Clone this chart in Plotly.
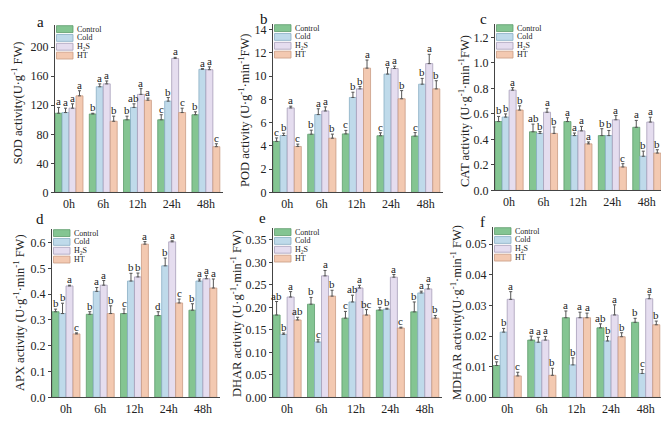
import plotly.graph_objects as go

# the page body has an 8px margin, so the figure is drawn 8px in from the top-left
OFF = 8
W, H = 669 - OFF, 423 - OFF
FONT = "Liberation Serif"

times = ["0h", "6h", "12h", "24h", "48h"]
groups = ["Control", "Cold", "H<sub>2</sub>S", "HT"]
fills = ["#84c592", "#bfdaea", "#e5ddef", "#f3c9b1"]
edges = ["#5e9c6c", "#8aaec4", "#a79eb9", "#c99c84"]

# ---- Panel a: SOD ----
sod = [[109, 108, 100, 100, 107],
       [110, 145.5, 117, 125.7, 169.5],
       [116, 149.5, 135, 184.5, 169],
       [133, 98, 127, 110, 63]]
sod_err = [[8, 1, 5, 7, 4],
           [6, 4, 5, 5, 1],
           [6, 4, 8, 1.5, 4],
           [7, 7, 3, 6, 4]]
sod_let = [["a", "b", "b", "c", "b"],
           ["a", "a", "ab", "b", "a"],
           ["a", "a", "a", "a", "a"],
           ["a", "b", "a", "c", "c"]]

# ---- Panel b: POD ----
pod = [[4.38, 5.0, 5.03, 4.87, 4.84],
       [4.89, 6.69, 8.16, 10.17, 9.3],
       [7.26, 7.0, 8.9, 10.65, 11.07],
       [3.95, 4.66, 10.68, 8.05, 8.9]]
pod_err = [[0.3, 0.35, 0.3, 0.25, 0.3],
           [0.2, 0.5, 0.45, 0.55, 0.5],
           [0.15, 0.35, 0.2, 0.2, 0.8],
           [0.2, 0.35, 0.7, 0.7, 0.7]]
pod_let = [["c", "b", "c", "c", "c"],
           ["b", "a", "b", "a", "b"],
           ["a", "a", "b", "a", "a"],
           ["c", "b", "a", "b", "b"]]

# ---- Panel c: CAT ----
cat = [[0.54, 0.46, 0.54, 0.43, 0.495],
       [0.575, 0.447, 0.43, 0.43, 0.268],
       [0.786, 0.613, 0.467, 0.554, 0.536],
       [0.63, 0.447, 0.365, 0.184, 0.293]]
cat_err = [[0.04, 0.06, 0.03, 0.054, 0.054],
           [0.025, 0.015, 0.02, 0.04, 0.04],
           [0.02, 0.03, 0.035, 0.033, 0.038],
           [0.033, 0.05, 0.015, 0.026, 0.026]]
cat_let = [["b", "ab", "a", "b", "a"],
           ["b", "b", "a", "b", "b"],
           ["a", "a", "a", "a", "a"],
           ["b", "b", "a", "c", "b"]]

# ---- Panel d: APX ----
apx = [[0.332, 0.322, 0.325, 0.317, 0.338],
       [0.325, 0.411, 0.451, 0.51, 0.451],
       [0.432, 0.435, 0.467, 0.603, 0.46],
       [0.246, 0.325, 0.594, 0.366, 0.424]]
apx_err = [[0.01, 0.01, 0.018, 0.015, 0.025],
           [0.04, 0.015, 0.03, 0.03, 0.008],
           [0.003, 0.018, 0.015, 0.004, 0.012],
           [0.004, 0.03, 0.01, 0.015, 0.035]]
apx_let = [["b", "b", "c", "d", "b"],
           ["b", "a", "b", "b", "a"],
           ["a", "a", "b", "a", "a"],
           ["c", "b", "a", "c", "a"]]

# ---- Panel e: DHAR ----
dhar = [[0.183, 0.207, 0.176, 0.194, 0.19],
        [0.14, 0.123, 0.212, 0.196, 0.232],
        [0.223, 0.27, 0.243, 0.267, 0.241],
        [0.172, 0.225, 0.183, 0.154, 0.176]]
dhar_err = [[0.03, 0.015, 0.015, 0.006, 0.022],
            [0.003, 0.005, 0.015, 0.002, 0.004],
            [0.012, 0.012, 0.006, 0.006, 0.01],
            [0.006, 0.013, 0.012, 0.002, 0.006]]
dhar_let = [["ab", "b", "c", "b", "b"],
            ["b", "c", "ab", "b", "a"],
            ["a", "a", "a", "a", "a"],
            ["ab", "b", "bc", "c", "b"]]

# ---- Panel f: MDHAR ----
mdhar = [[0.0104, 0.0187, 0.026, 0.0227, 0.0245],
         [0.0213, 0.018, 0.0106, 0.0184, 0.0078],
         [0.032, 0.0187, 0.026, 0.0269, 0.0322],
         [0.007, 0.0072, 0.026, 0.0198, 0.0237]]
mdhar_err = [[0.0012, 0.0013, 0.0022, 0.0013, 0.0013],
             [0.0012, 0.0016, 0.0023, 0.0015, 0.0013],
             [0.0025, 0.0012, 0.0018, 0.0033, 0.0013],
             [0.0012, 0.0023, 0.0015, 0.0013, 0.0012]]
mdhar_let = [["c", "a", "a", "ab", "b"],
             ["b", "a", "b", "b", "c"],
             ["a", "a", "a", "a", "a"],
             ["c", "b", "a", "b", "b"]]

panels = [
    dict(tag="a", tagpos=(40, 21), titlepos=(17, 104), vals=sod, err=sod_err,
         let=sod_let, box=(55, 223, 24, 195), yr=231, dt=40, fmt="d",
         title="SOD activity(U·g<sup>-1</sup> FW)"),
    dict(tag="b", tagpos=(264, 8.5), titlepos=(244, 112), vals=pod, err=pod_err,
         let=pod_let, box=(273, 443, 23, 195), yr=14.5, dt=2, fmt="d",
         title="POD activity (U·g<sup>-1</sup>·min<sup>-1</sup>FW)"),
    dict(tag="c", tagpos=(483, 8.5), titlepos=(464, 112), vals=cat, err=cat_err,
         let=cat_let, box=(495, 664, 23, 193), yr=1.307, dt=0.2, fmt=".1f",
         title="CAT activity (U·g<sup>-1</sup>·min<sup>-1</sup>FW)"),
    dict(tag="d", tagpos=(40, 222), titlepos=(19, 318), vals=apx, err=apx_err,
         let=apx_let, box=(52, 220, 232, 404), yr=0.654, dt=0.1, fmt=".1f",
         title="APX activity (U·g<sup>-1</sup>·min<sup>-1</sup> FW)"),
    dict(tag="e", tagpos=(262, 221), titlepos=(236, 319), vals=dhar, err=dhar_err,
         let=dhar_let, box=(273, 442, 231, 404), yr=0.377, dt=0.05, fmt=".2f",
         title="DHAR activity (U·g<sup>-1</sup>·min<sup>-1</sup> FW)"),
    dict(tag="f", tagpos=(482, 225), titlepos=(456, 318), vals=mdhar, err=mdhar_err,
         let=mdhar_let, box=(493, 663, 230, 404), yr=0.0557, dt=0.01, fmt=".2f",
         title="MDHAR activity(U·g<sup>-1</sup>·min<sup>-1</sup> FW)"),
]

BARGAP = 0.185
XR = [-0.41, 4.5]
xpos = list(range(len(times)))

fig = go.Figure()
layout = dict(width=W, height=H, margin=dict(l=0, r=0, t=0, b=0),
              paper_bgcolor="white", plot_bgcolor="white",
              showlegend=False, barmode="group", bargap=BARGAP, bargroupgap=0,
              font=dict(family=FONT, size=12, color="#222"))
annotations = []
shapes = []


def px(x):
    return (x - OFF) / W


def py(y):
    return 1 - (y - OFF) / H


for k, p in enumerate(panels):
    n = "" if k == 0 else str(k + 1)
    xa, ya = "x" + n, "y" + n
    x0, x1, y0, y1 = p["box"]
    for g in range(4):
        fig.add_trace(go.Bar(
            x=xpos, y=p["vals"][g], name=groups[g], xaxis=xa, yaxis=ya,
            marker=dict(color=fills[g], line=dict(color=edges[g], width=0.8)),
            error_y=dict(type="data", symmetric=False, array=p["err"][g],
                         arrayminus=[0] * len(times), color="#555",
                         thickness=1, width=1.5),
            offsetgroup=str(g)))
        bw = (1 - BARGAP) / 4
        off = (g - 1.5) * bw
        for i in range(len(times)):
            annotations.append(dict(
                x=xpos[i] + off, y=p["vals"][g][i] + p["err"][g][i],
                xref=xa, yref=ya, text=p["let"][g][i], showarrow=False,
                yanchor="bottom", yshift=-2,
                font=dict(family=FONT, size=11, color="#222")))
    tv = []
    v = 0.0
    while v <= p["yr"] + 1e-9:
        tv.append(round(v, 4))
        v += p["dt"]
    if p["fmt"] == "d":
        tt = [str(int(round(t))) for t in tv]
    else:
        tt = [format(t, p["fmt"]) for t in tv]
    layout["xaxis" + n] = dict(
        domain=[px(x0), px(x1)], anchor=ya, range=XR,
        tickvals=xpos, ticktext=times, showline=True, linecolor="#444",
        linewidth=1, ticks="", showgrid=False, zeroline=False,
        tickfont=dict(family=FONT, size=12, color="#222"))
    layout["yaxis" + n] = dict(
        domain=[py(y1), py(y0)], anchor=xa, range=[0, p["yr"]],
        tickvals=tv, ticktext=tt, showline=True, linecolor="#444",
        linewidth=1, ticks="outside", ticklen=3, tickcolor="#444",
        showgrid=False, zeroline=False,
        tickfont=dict(family=FONT, size=12, color="#222"))
    # y-axis title
    cx, cy = p["titlepos"]
    annotations.append(dict(
        x=px(cx), y=py(cy), xref="paper", yref="paper", text=p["title"],
        textangle=-90, showarrow=False, xanchor="center", yanchor="middle",
        font=dict(family=FONT, size=12.5, color="#222")))
    # panel letter
    tx, ty = p["tagpos"]
    top_row = ty < 10
    annotations.append(dict(
        x=px(tx), y=py(ty), xref="paper", yref="paper",
        text=p["tag"], showarrow=False, xanchor="center",
        yanchor="top" if top_row else "middle",
        font=dict(family=FONT, size=15, color="#111")))
    # legend drawn inside each panel
    for g in range(4):
        top = y0 + 1 + g * 9
        shapes.append(dict(type="rect", xref="paper", yref="paper",
                           x0=px(x0 + 1.5), x1=px(x0 + 18), y0=py(top + 7),
                           y1=py(top), fillcolor=fills[g],
                           line=dict(color=edges[g], width=0.8)))
        annotations.append(dict(
            x=px(x0 + 20), y=py(top + 3.5), xref="paper", yref="paper",
            text=groups[g], showarrow=False, xanchor="left", yanchor="middle",
            font=dict(family=FONT, size=8, color="#222")))

layout["annotations"] = annotations
layout["shapes"] = shapes
fig.update_layout(**layout)
fig.write_html("out.html")
